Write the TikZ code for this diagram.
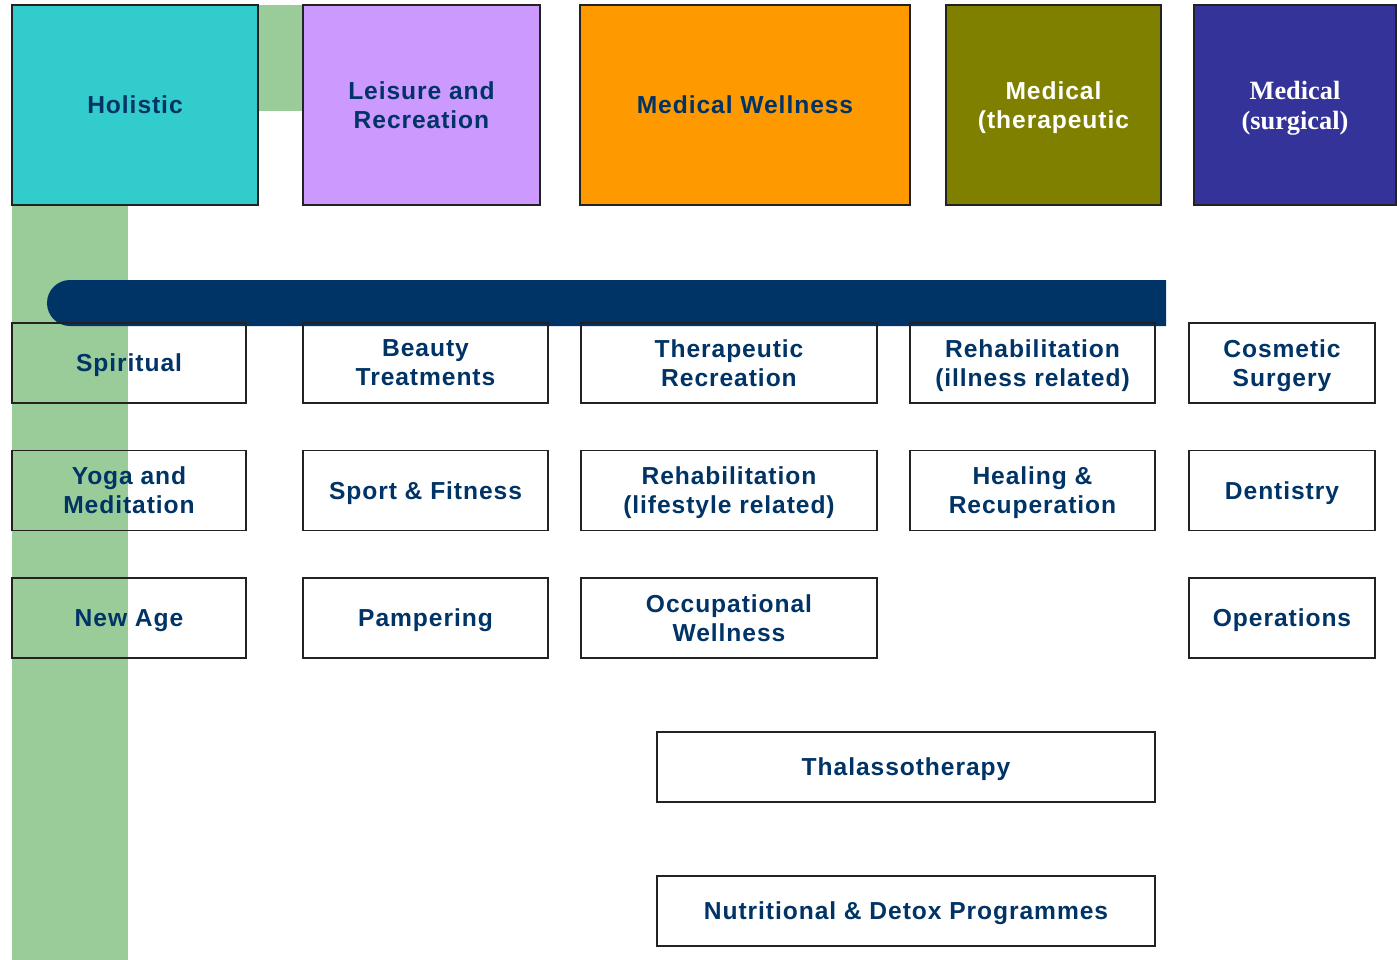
\documentclass[tikz,border=0pt]{standalone}
\usepackage{fontspec}
\setmainfont{Liberation Sans}[LetterSpace=3.8]
\newfontfamily\surgicalfont{Liberation Serif}
\usetikzlibrary{positioning}
\definecolor{bandgreen}{HTML}{99CC99}
\definecolor{holisticcyan}{HTML}{33CCCC}
\definecolor{leisurelilac}{HTML}{CC99FF}
\definecolor{wellnessorange}{HTML}{FF9900}
\definecolor{therapeuticolive}{HTML}{808000}
\definecolor{surgicalblue}{HTML}{333399}
\definecolor{navytext}{HTML}{003366}
\definecolor{barnavy}{HTML}{003366}
\definecolor{framegray}{HTML}{222222}
\begin{document}
\begin{tikzpicture}
[x=0.02cm,y=-0.02cm,
  headdecorate/.style={draw=framegray,line width=0.8pt,inner sep=0pt,outer sep=0pt,text depth=0pt,
    minimum height=4cm,align=center,font=\bfseries\fontsize{14}{16.5}\selectfont},
  itemdecorate/.style={draw=framegray,line width=0.8pt,inner sep=0pt,outer sep=0pt,text depth=0pt,
    align=center,text=navytext,font=\bfseries\fontsize{14}{16.5}\selectfont}]
\useasboundingbox (0,0) rectangle (1397,960);
%% green band behind the holistic column
\fill[bandgreen] (12,5) rectangle (303,111);
\fill[bandgreen] (12,5) rectangle (128,960);
%% heading boxes
\foreach \nodename/\x/\w/\fillcol/\txtcol/\txt in {holistic/135/246/holisticcyan/navytext/Holistic,
  leisure/421.5/237/leisurelilac/navytext/{Leisure and\\Recreation},
  wellness/745/330/wellnessorange/navytext/Medical Wellness,
  therapeutic/1053.5/215/therapeuticolive/white/{Medical\\(therapeutic}} {
  \node (\nodename) at (\x,105) [headdecorate,fill=\fillcol,text=\txtcol,minimum width=\w*0.02cm] {\txt};
}
\node (surgical) at (1295,105) [headdecorate,fill=surgicalblue,text=white,minimum width=202*0.02cm,
  font=\surgicalfont\bfseries\fontsize{15}{17}\selectfont] {Medical\\(surgical)};
%% the dark bar
\fill[barnavy] (1166,280) -- (70,280) arc (270:90:23) -- (1166,326) -- cycle;
%% item boxes
\foreach \nodename/\x/\y/\w/\txt in {spiritual/129/363/234/Spiritual,
  beauty/425.5/363/245/{Beauty\\Treatments},
  recreation/729/363/296/{Therapeutic\\Recreation},
  illness/1032.5/363/245/{Rehabilitation\\(illness related)},
  cosmetic/1282/363/186/{Cosmetic\\Surgery},
  yoga/129/490.5/234/{Yoga and\\Meditation},
  sport/425.5/490.5/245/Sport \& Fitness,
  lifestyle/729/490.5/296/{Rehabilitation\\(lifestyle related)},
  healing/1032.5/490.5/245/{Healing \&\\Recuperation},
  dentistry/1282/490.5/186/Dentistry,
  newage/129/618/234/New Age,
  pampering/425.5/618/245/Pampering,
  occupational/729/618/296/{Occupational\\Wellness},
  operations/1282/618/186/Operations} {
  \node (\nodename) at (\x,\y) [itemdecorate,minimum width=\w*0.02cm,minimum height=1.6cm] {\txt};
}
\node (thalasso) at (906,767) [itemdecorate,minimum width=498*0.02cm,minimum height=1.4cm] {Thalassotherapy};
\node (detox) at (906,911) [itemdecorate,minimum width=498*0.02cm,minimum height=1.4cm] {Nutritional \& Detox Programmes};
\end{tikzpicture}
\end{document}
